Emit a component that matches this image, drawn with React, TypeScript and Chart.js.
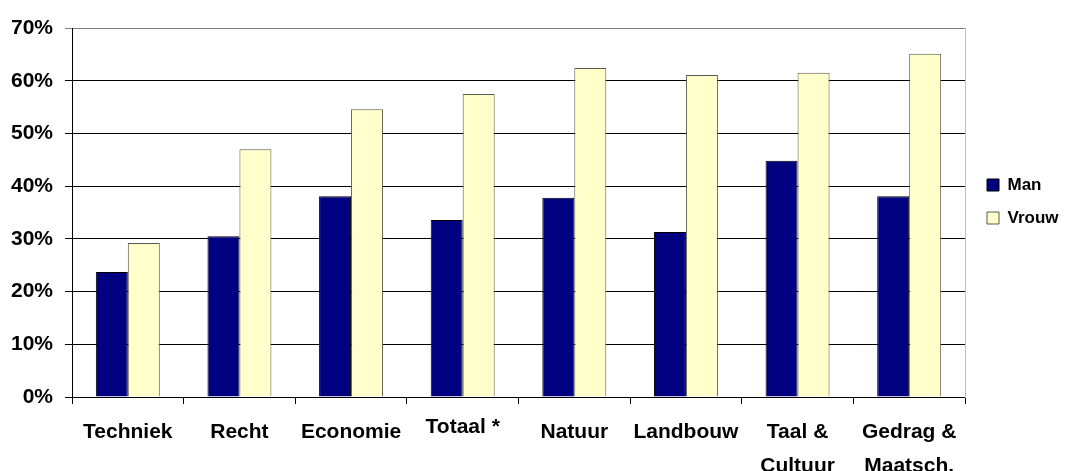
import React, { useEffect, useRef } from "react";
import { Chart, registerables } from "chart.js";

Chart.register(...registerables);

const categories: (string | string[])[] = [
  "Techniek",
  "Recht",
  "Economie",
  "Totaal *",
  "Natuur",
  "Landbouw",
  ["Taal &", "Cultuur"],
  ["Gedrag &", "Maatsch."],
];
const manValues = [23.7, 30.5, 38.1, 33.6, 37.8, 31.3, 44.8, 38.1];
const vrouwValues = [29.2, 47.0, 54.6, 57.5, 62.4, 61.1, 61.5, 65.1];
const seriesNames = ["Man", "Vrouw"];
const yMax = 70;
const yStep = 10;

const FONT = "'Liberation Sans', Arial, sans-serif";

export default function App() {
  const ref = useRef<HTMLCanvasElement | null>(null);

  useEffect(() => {
    if (!ref.current) return;
    Chart.defaults.font.family = FONT;
    const chart = new Chart(ref.current, {
      type: "bar",
      data: {
        labels: categories,
        datasets: [
          {
            label: seriesNames[0],
            data: manValues,
            backgroundColor: "#000080",
            borderColor: "#000000",
            borderWidth: 1,
            categoryPercentage: 0.573,
            barPercentage: 1.0,
          },
          {
            label: seriesNames[1],
            data: vrouwValues,
            backgroundColor: "#FFFFCC",
            borderColor: "#5a5a4a",
            borderWidth: 1,
            categoryPercentage: 0.573,
            barPercentage: 1.0,
          },
        ],
      },
      options: {
        responsive: false,
        animation: false,
        layout: { padding: { top: 28, left: 0, right: 0, bottom: 0 } },
        plugins: {
          tooltip: { enabled: false },
          legend: {
            position: "right",
            align: "start",
            maxWidth: 94,
            title: {
              display: true,
              text: " ",
              font: { size: 10, lineHeight: 1 },
              padding: { top: 122.5, bottom: 0 },
            },
            labels: {
              boxWidth: 12,
              boxHeight: 12,
              padding: 16,
              color: "#000",
              font: { family: FONT, size: 17, weight: "bold" },
            },
          },
        },
        scales: {
          x: {
            offset: true,
            grid: {
              display: true,
              offset: true,
              drawOnChartArea: false,
              drawTicks: true,
              tickLength: 7,
              color: "#000",
            },
            border: { display: true, color: "#000" },
            ticks: {
              color: "#000",
              padding: 11,
              maxRotation: 0,
              autoSkip: false,
              font: (ctx: any) => ({
                family: FONT,
                size: 21,
                weight: "bold",
                lineHeight: ctx.index === 3 ? 24 / 21 : 34 / 21,
              }),
            },
            afterFit: (scale: any) => {
              scale.height = 74;
            },
          },
          y: {
            min: 0,
            max: yMax,
            grid: {
              color: (ctx: any) => (ctx.tick && ctx.tick.value === yMax ? "#808080" : "#000"),
              tickLength: 7,
            },
            border: { display: true, color: "#000" },
            ticks: {
              stepSize: yStep,
              color: "#000",
              padding: 12,
              font: { family: FONT, size: 21, weight: "bold" },
              callback: (v: any) => v + "%",
            },
            afterFit: (scale: any) => {
              scale.width = 72;
            },
          },
          yRight: {
            type: "linear",
            position: "right",
            min: 0,
            max: yMax,
            grid: { display: false, drawOnChartArea: false, drawTicks: false },
            border: { display: true, color: "#c0c0c0" },
            ticks: { display: false },
            afterFit: (scale: any) => {
              scale.width = 6;
            },
          },
        },
      } as any,
    });
    return () => chart.destroy();
  }, []);

  return (
    <div style={{ position: "absolute", left: 0, top: 0, width: 1065, height: 471, background: "#fff" }}>
      <canvas ref={ref} width={1065} height={471} />
    </div>
  );
}
